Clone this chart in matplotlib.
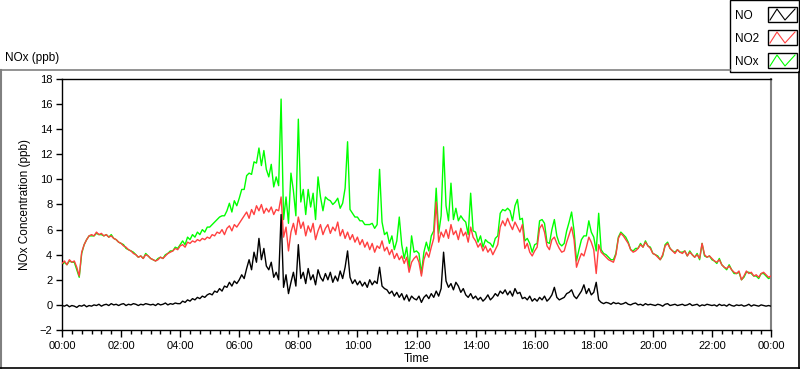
import numpy as np
import matplotlib
matplotlib.use("Agg")
import matplotlib.pyplot as plt
from matplotlib.lines import Line2D
from matplotlib.patches import Rectangle
from matplotlib.ticker import MultipleLocator

# 5-minute samples, 00:00 .. 24:00 (one row per hour)
no2 = [
    3.3, 3.5, 3.2, 3.6, 3.4, 3.5, 3.0, 2.3, 4.2, 4.8, 5.2, 5.5,
    5.6, 5.5, 5.8, 5.6, 5.7, 5.5, 5.6, 5.4, 5.5, 5.3, 5.2, 5.0,
    4.9, 4.7, 4.6, 4.4, 4.3, 4.1, 4.0, 3.8, 3.9, 3.7, 4.0, 3.9,
    3.7, 3.6, 3.5, 3.6, 3.8, 3.7, 3.9, 4.1, 4.2, 4.3, 4.5, 4.4,
    4.7, 4.8, 4.6, 5.0, 4.9, 5.1, 5.0, 5.2, 5.1, 5.3, 5.2, 5.4,
    5.3, 5.6, 5.5, 5.8, 5.7, 6.0, 5.6, 6.1, 6.3, 5.9, 6.4, 6.2,
    6.5, 6.8, 7.1, 7.4, 6.9, 7.6, 7.2, 7.9, 7.5, 8.0, 7.3, 7.7,
    7.4, 7.8, 7.2, 7.6, 7.5, 8.6, 5.4, 6.2, 4.3, 5.8, 6.5, 5.6,
    7.0, 6.1, 6.6, 5.5, 6.3, 5.8, 6.5, 5.2, 5.9, 6.4, 5.6, 6.1,
    6.4, 5.7, 6.2, 5.9, 6.6, 5.5, 6.0, 5.3, 5.8, 5.2, 5.6, 5.0,
    5.4, 4.8, 5.2, 4.6, 5.0, 4.4, 4.9, 4.2, 4.7, 4.5, 5.1, 4.3,
    4.6, 4.0, 4.4, 3.7, 4.1, 3.6, 3.9, 3.3, 3.8, 2.6, 3.4, 3.7,
    3.9, 3.4, 2.3, 3.6, 4.2, 3.8, 4.6, 5.3, 8.2, 5.0, 5.8, 5.4,
    6.0, 5.3, 6.4, 5.6, 5.9, 5.2, 6.1, 5.5, 5.8, 5.0, 6.2, 5.4,
    5.1, 4.6, 4.9, 4.3, 4.7, 4.2, 4.5, 4.0, 4.4, 4.8, 6.2, 6.7,
    6.3, 6.9, 6.4, 6.0, 6.6, 6.2, 5.8, 6.4, 4.5, 4.9, 4.2, 3.9,
    4.3, 4.6, 6.1, 6.4, 5.8, 4.7, 4.4, 5.2, 5.4, 4.9, 4.5, 4.2,
    4.3, 5.0, 5.6, 6.2, 5.2, 3.0, 3.6, 4.1, 3.9, 4.6, 5.4, 5.0,
    4.4, 2.5, 4.8, 4.2, 4.0, 3.8, 3.6, 3.5, 3.4, 4.0, 5.3, 5.7,
    5.5, 5.2, 4.9, 4.4, 4.2, 4.3, 4.5, 4.8, 4.6, 5.0, 4.7, 4.5,
    4.1, 4.0, 3.8, 3.6, 4.0, 4.7, 4.9, 4.5, 4.3, 4.1, 4.4, 4.2,
    4.1, 4.3, 3.9, 4.2, 4.0, 3.8, 4.0, 3.7, 4.9, 4.0, 3.8, 3.9,
    3.7, 3.5, 3.4, 3.6, 3.2, 3.0, 2.9, 3.1, 2.8, 2.6, 2.5, 2.7,
    2.0, 2.3, 2.7, 2.5, 2.6, 2.3, 2.4, 2.2, 2.5, 2.6, 2.4, 2.2,
    2.3,
]

no = [
    -0.05, -0.1, 0.0, -0.15, -0.05, -0.1, -0.2, -0.05, -0.1, 0.0, -0.15, -0.05,
    -0.1, 0.0, -0.05, 0.05, -0.1, 0.0, 0.05, -0.05, 0.1, 0.0, 0.05, -0.05,
    0.05, 0.1, -0.05, 0.05, 0.0, 0.1, 0.05, -0.05, 0.05, 0.0, 0.1, 0.05,
    0.0, 0.05, -0.05, 0.1, 0.0, 0.05, 0.15, 0.0, 0.1, 0.05, 0.15, 0.1,
    0.1, 0.3, 0.2, 0.4, 0.3, 0.5, 0.4, 0.6, 0.5, 0.7, 0.6, 0.8,
    0.9, 0.8, 1.1, 1.0, 1.3, 1.1, 1.5, 1.4, 1.8, 1.5, 1.9, 1.7,
    2.0, 2.4, 2.1, 2.9, 3.6, 2.8, 4.2, 3.4, 5.3, 3.6, 4.5, 3.1,
    2.8, 3.4, 2.2, 2.6, 2.0, 7.2, 1.4, 2.4, 0.9, 1.8, 2.6, 1.5,
    4.8, 2.1, 2.6, 1.7, 2.9, 2.0, 2.4, 1.6, 2.8, 2.2, 1.9, 2.5,
    2.0, 2.6, 1.8, 2.3, 1.9, 2.7, 2.1, 3.0, 4.3, 2.2, 1.7, 2.0,
    1.6, 1.9, 1.5, 1.8, 1.4, 2.0, 1.6, 1.9, 1.7, 3.0, 1.5, 1.3,
    1.2, 0.9, 1.1, 0.7, 1.0, 0.6, 0.9, 0.4, 0.8, 0.3, 0.7, 0.5,
    0.4, 0.7, 0.2, 0.6, 0.8, 0.5, 0.9, 0.6, 1.1, 0.7, 1.3, 4.2,
    1.9, 1.4, 1.7, 1.2, 1.8, 1.5, 1.0, 1.3, 0.8, 0.6, 0.9, 0.5,
    0.7, 0.4, 0.6, 0.3, 0.5, 0.8, 0.4, 0.6, 0.9, 0.7, 1.1, 0.9,
    1.2, 0.8, 1.1, 0.7, 1.3, 0.9, 1.0, 0.5, 0.6, 0.4, 0.7, 0.3,
    0.5, 0.3, 0.6, 0.4, 0.7, 0.3, 0.5, 0.8, 1.4, 0.6, 0.4, 0.5,
    0.6, 0.9, 1.0, 1.2, 0.7, 0.5, 0.8, 1.1, 1.6, 0.9, 1.3, 0.8,
    1.0, 1.8, 0.4, 0.2, 0.1, 0.2, 0.15, 0.05, 0.2, 0.1, 0.15, 0.05,
    0.1, 0.2, 0.05, 0.0, 0.1, 0.15, 0.0, 0.05, -0.05, 0.1, 0.0, 0.05,
    0.0, -0.05, 0.05, 0.0, -0.1, 0.05, 0.1, -0.05, 0.0, 0.05, -0.05, 0.0,
    0.05, -0.05, 0.0, 0.1, -0.05, 0.0, 0.05, -0.1, 0.0, -0.05, 0.05, 0.0,
    -0.05, 0.0, -0.1, 0.05, -0.05, 0.0, -0.1, 0.05, -0.05, -0.1, 0.0, -0.05,
    0.0, -0.1, -0.05, 0.05, -0.1, 0.0, -0.05, -0.1, 0.0, -0.05, -0.1, -0.05,
    -0.1,
]

nox = [
    3.2, 3.4, 3.2, 3.5, 3.4, 3.4, 2.8, 2.2, 4.1, 4.8, 5.2, 5.5,
    5.5, 5.5, 5.7, 5.6, 5.6, 5.5, 5.6, 5.4, 5.6, 5.3, 5.2, 5.0,
    4.9, 4.8, 4.5, 4.4, 4.3, 4.2, 4.0, 3.8, 3.9, 3.7, 4.1, 3.9,
    3.7, 3.6, 3.5, 3.7, 3.8, 3.7, 4.0, 4.1, 4.3, 4.3, 4.6, 4.5,
    4.8, 5.1, 4.8, 5.4, 5.2, 5.6, 5.4, 5.8, 5.6, 6.0, 5.8, 6.2,
    6.2, 6.4, 6.6, 6.8, 7.0, 7.1, 7.1, 7.5, 8.1, 7.4, 8.3, 7.9,
    8.5, 9.2, 9.2, 10.3, 10.5, 10.4, 11.4, 11.3, 12.5, 11.1, 12.3, 10.8,
    10.2, 11.2, 9.4, 10.2, 9.5, 16.4, 6.8, 8.6, 6.5, 10.5, 9.1, 7.1,
    14.8, 8.2, 9.2, 7.2, 9.2, 7.8, 8.9, 6.8, 10.2, 8.6, 7.5, 8.6,
    8.4, 8.3, 8.0, 8.2, 8.5, 7.7, 8.1, 9.3, 13.0, 7.6, 7.3, 7.0,
    7.0, 6.7, 6.7, 6.4, 6.4, 6.4, 6.5, 6.1, 6.4, 10.8, 6.6, 5.6,
    5.8, 4.9, 5.5, 4.4, 5.1, 7.0, 4.8, 3.7, 4.6, 2.9, 5.5, 4.2,
    4.3, 4.1, 2.5, 4.2, 5.0, 4.3, 5.5, 5.9, 9.3, 5.7, 7.1, 12.6,
    7.9, 6.7, 9.7, 6.8, 7.7, 6.7, 7.1, 6.8, 6.6, 5.6, 8.9, 5.9,
    5.8, 5.0, 5.5, 4.6, 5.2, 5.0, 4.9, 4.6, 5.3, 5.5, 7.3, 7.6,
    7.5, 7.7, 7.5, 6.7, 7.9, 8.4, 6.8, 6.9, 5.1, 5.3, 4.9, 4.2,
    4.8, 4.9, 6.7, 6.8, 6.5, 5.0, 4.9, 6.0, 6.8, 5.5, 4.9, 4.7,
    4.9, 5.9, 6.6, 7.4, 5.9, 3.5, 4.4, 5.2, 5.5, 5.5, 6.7, 5.8,
    5.4, 4.3, 7.3, 4.4, 4.1, 4.0, 3.8, 3.6, 3.6, 4.1, 5.4, 5.8,
    5.6, 5.4, 5.0, 4.4, 4.3, 4.5, 4.5, 4.9, 4.6, 5.1, 4.7, 4.6,
    4.1, 4.0, 3.9, 3.6, 3.9, 4.8, 5.0, 4.5, 4.3, 4.2, 4.4, 4.2,
    4.2, 4.3, 3.9, 4.3, 4.0, 3.8, 4.1, 3.6, 4.9, 3.9, 3.8, 3.9,
    3.6, 3.5, 3.3, 3.7, 3.2, 3.0, 2.8, 3.2, 2.8, 2.5, 2.5, 2.6,
    2.0, 2.2, 2.6, 2.6, 2.5, 2.3, 2.3, 2.1, 2.5, 2.5, 2.3, 2.1,
    2.2,
]

time_labels = ["00:00", "02:00", "04:00", "06:00", "08:00", "10:00", "12:00",
               "14:00", "16:00", "18:00", "20:00", "22:00", "00:00"]
series_names = ["NO", "NO2", "NOx"]
series_colors = ["#000000", "#ff4040", "#00ff00"]

hours = np.arange(len(no2)) * 5 / 60.0

W, H = 800, 369
plt.rcParams['font.family'] = ['Liberation Sans', 'DejaVu Sans']
fig = plt.figure(figsize=(W / 100, H / 100), dpi=100)
fig.patch.set_facecolor("white")


def fx(px):
    return px / W


def fy(py):
    return 1 - py / H


ax = fig.add_axes([fx(62), fy(330), fx(771) - fx(62), fy(79) - fy(330)])
ax.plot(hours, nox, color=series_colors[2], lw=1.0, zorder=2)
ax.plot(hours, no2, color=series_colors[1], lw=1.0, zorder=3)
ax.plot(hours, no, color=series_colors[0], lw=1.0, zorder=4)

ax.set_xlim(0, 24)
ax.set_ylim(-2, 18)
ax.set_yticks(np.arange(-2, 19, 2))
ax.set_xticks(np.arange(0, 25, 2))
ax.set_xticklabels(time_labels)
ax.xaxis.set_minor_locator(MultipleLocator(1 / 3))
ax.tick_params(axis='both', which='major', direction='out', length=5, width=1,
               labelsize=8, pad=3, colors='black')
ax.tick_params(axis='x', which='minor', direction='out', length=3, width=1)
ax.tick_params(axis='y', which='major', length=4)

for side in ["top", "left", "bottom"]:
    ax.spines[side].set_color("black")
    ax.spines[side].set_linewidth(1)
ax.spines["right"].set_color("#808080")
ax.spines["right"].set_linewidth(1.5)

ax.set_xlabel("Time", fontsize=8.5, labelpad=1)
ax.set_ylabel("NOx Concentration (ppb)", fontsize=8.5, labelpad=6)

fig.text(fx(5), fy(58), "NOx (ppb)", fontsize=8.5, ha='left', va='center')

# panel frame
fig.add_artist(Line2D([fx(0), fx(730)], [fy(69.5), fy(69.5)], color="#808080", lw=1.2))
fig.add_artist(Line2D([fx(0.5), fx(0.5)], [fy(69.5), fy(368)], color="#808080", lw=1.5))
fig.add_artist(Line2D([fx(0), fx(800)], [fy(367.5), fy(367.5)], color="black", lw=1.2))
fig.add_artist(Line2D([fx(798.5), fx(798.5)], [fy(72), fy(368)], color="black", lw=1.2))

# legend box
fig.add_artist(Rectangle((fx(730), fy(72)), fx(799) - fx(730), fy(0) - fy(72),
                         facecolor="white", edgecolor="black", lw=1.0))
rows = [16, 39, 62]
for name, color, yc in zip(series_names, series_colors, rows):
    fig.text(fx(735), fy(yc), name, fontsize=8.5, ha='left', va='center')
    top, bot = yc - 9, yc + 6
    fig.add_artist(Rectangle((fx(768), fy(bot)), fx(797) - fx(768), fy(top) - fy(bot),
                             facecolor="white", edgecolor="black", lw=1.0))
    zx = [770, 777, 785, 795]
    zy = [bot - 2, top + 2, bot - 2, top + 2]
    fig.add_artist(Line2D([fx(v) for v in zx], [fy(v) for v in zy], color=color, lw=0.8))

fig.savefig("out.png", dpi=100, facecolor="white")
